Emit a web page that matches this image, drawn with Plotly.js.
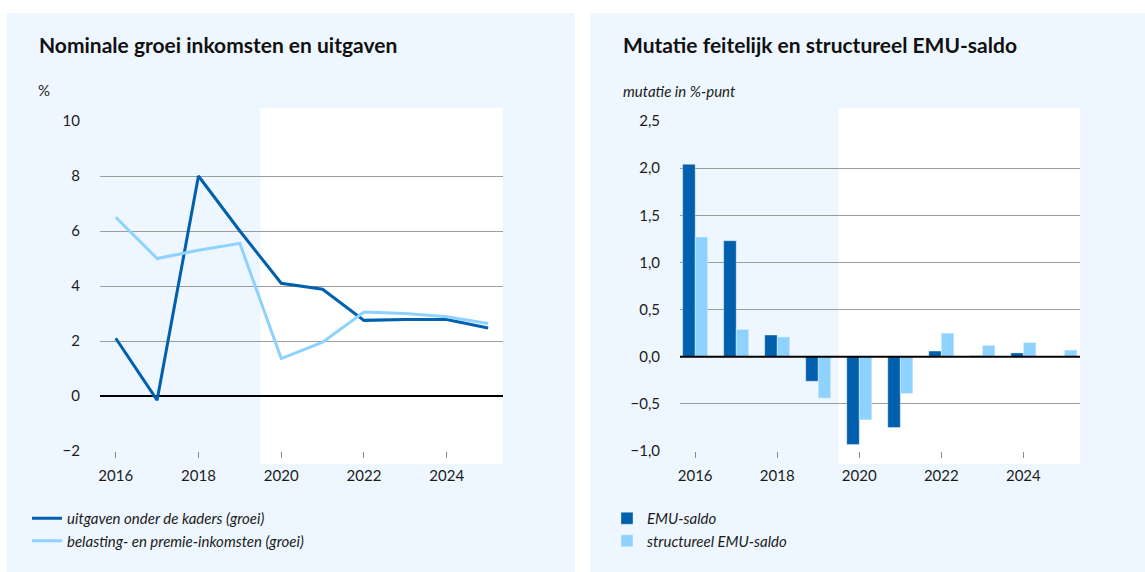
<!DOCTYPE html>
<html>
<head>
<meta charset="utf-8">
<script src="https://cdn.plot.ly/plotly-3.0.1.min.js"></script>
<style>
  html, body { margin: 0; padding: 0; background: #ffffff; }
  #chart { width: 1145px; height: 572px; }
</style>
</head>
<body>
<div id="chart"></div>
<script>
// ---- data ----
const years = [2016, 2017, 2018, 2019, 2020, 2021, 2022, 2023, 2024, 2025];
const uitgavenGroei = [2.1, -0.15, 8.0, 6.0, 4.1, 3.88, 2.75, 2.78, 2.78, 2.47];
const belastingGroei = [6.5, 5.0, 5.3, 5.55, 1.36, 1.96, 3.05, 3.0, 2.88, 2.64];
const emuSaldo = [2.04, 1.23, 0.23, -0.26, -0.93, -0.75, 0.06, 0.01, 0.04, 0.0];
const structureelSaldo = [1.27, 0.29, 0.21, -0.44, -0.67, -0.39, 0.25, 0.12, 0.15, 0.07];
const xTickVals = [2016, 2018, 2020, 2022, 2024];
const leftYTicks = [-2, 0, 2, 4, 6, 8, 10];
const rightYTicks = [-1.0, -0.5, 0.0, 0.5, 1.0, 1.5, 2.0, 2.5];
const forecastStart = 2019.5;

const W = 1145, H = 572;
const px = v => v / W;
const py = v => 1 - v / H;

const FONT = 'Lato, "Noto Sans", sans-serif';
const DARK = '#0060AE';
const LIGHT = '#8ED2FF';
const BG = '#EEF7FF';
const GRID = '#9c9c9c';
const TXT = '#1b1b1b';

const traces = [
  { type: 'scatter', mode: 'lines', x: years, y: uitgavenGroei, name: 'uitgaven onder de kaders (groei)',
    line: { color: DARK, width: 3 }, xaxis: 'x', yaxis: 'y', legend: 'legend', hoverinfo: 'skip' },
  { type: 'scatter', mode: 'lines', x: years, y: belastingGroei, name: 'belasting- en premie-inkomsten (groei)',
    line: { color: LIGHT, width: 3 }, xaxis: 'x', yaxis: 'y', legend: 'legend', hoverinfo: 'skip' },
  { type: 'bar', x: years, y: emuSaldo, name: 'EMU-saldo', marker: { color: DARK, line: { color: 'rgba(255,255,255,0.35)', width: 1 } },
    xaxis: 'x2', yaxis: 'y2', legend: 'legend2', hoverinfo: 'skip' },
  { type: 'bar', x: years, y: structureelSaldo, name: 'structureel EMU-saldo', marker: { color: LIGHT, line: { color: 'rgba(255,255,255,0.35)', width: 1 } },
    xaxis: 'x2', yaxis: 'y2', legend: 'legend2', hoverinfo: 'skip' }
];

const xCommon = {
  tickmode: 'array', tickvals: xTickVals, ticks: 'outside', ticklen: 6, tickcolor: '#8a8a8a', tickwidth: 1,
  showgrid: false, zeroline: false, showline: false,
  tickfont: { family: FONT, size: 15, color: TXT }, ticklabelstandoff: 5, fixedrange: true
};
const yCommon = {
  showgrid: true, gridcolor: GRID, gridwidth: 1, ticks: '', showline: false,
  tickfont: { family: FONT, size: 15, color: TXT }, ticklabelstandoff: 19, fixedrange: true
};

const layout = {
  width: W, height: H,
  margin: { l: 0, r: 0, t: 0, b: 0 },
  paper_bgcolor: '#ffffff', plot_bgcolor: 'rgba(0,0,0,0)',
  separators: ',.',
  barmode: 'group', bargap: 0.39, bargroupgap: 0,
  showlegend: true,
  xaxis: Object.assign({}, xCommon, { domain: [px(100), px(503)], range: [2015.62, 2025.36], anchor: 'y' }),
  yaxis: Object.assign({}, yCommon, { domain: [py(451), py(121)], range: [-2, 10], tickmode: 'array', tickvals: leftYTicks,
    zeroline: true, zerolinecolor: '#000000', zerolinewidth: 2, anchor: 'x' }),
  xaxis2: Object.assign({}, xCommon, { domain: [px(680), px(1080)], range: [2015.63, 2025.38], anchor: 'y2' }),
  yaxis2: Object.assign({}, yCommon, { domain: [py(451), py(121)], range: [-1, 2.5], tickmode: 'array', tickvals: rightYTicks,
    tickformat: '.1f', zeroline: false, anchor: 'x2' }),
  legend: { x: px(27), y: py(502), xanchor: 'left', yanchor: 'top', bgcolor: 'rgba(0,0,0,0)',
    font: { family: FONT, size: 15, color: TXT, style: 'italic' }, tracegroupgap: 0, itemwidth: 30 },
  legend2: { x: px(607), y: py(502), xanchor: 'left', yanchor: 'top', bgcolor: 'rgba(0,0,0,0)',
    font: { family: FONT, size: 15, color: TXT, style: 'italic' }, tracegroupgap: 0, itemwidth: 30, traceorder: 'normal' },
  shapes: [
    { type: 'rect', xref: 'paper', yref: 'paper', x0: px(7), x1: px(575), y0: 0, y1: py(13), fillcolor: BG, line: { width: 0 }, layer: 'below' },
    { type: 'rect', xref: 'paper', yref: 'paper', x0: px(590), x1: 1, y0: 0, y1: py(13), fillcolor: BG, line: { width: 0 }, layer: 'below' },
    { type: 'rect', xref: 'x', yref: 'paper', x0: forecastStart, x1: 2025.36, y0: py(464), y1: py(108), fillcolor: '#ffffff', line: { width: 0 }, layer: 'below' },
    { type: 'rect', xref: 'x2', yref: 'paper', x0: forecastStart, x1: 2025.38, y0: py(464), y1: py(108), fillcolor: '#ffffff', line: { width: 0 }, layer: 'below' },
    { type: 'line', xref: 'x2 domain', yref: 'y2', x0: 0, x1: 1, y0: 0, y1: 0, line: { color: '#000000', width: 2 }, layer: 'above' }
  ],
  annotations: [
    { xref: 'paper', yref: 'paper', x: px(37), y: py(45), xanchor: 'left', yanchor: 'middle', showarrow: false,
      text: '<b>Nominale groei inkomsten en uitgaven</b>', font: { family: FONT, size: 21, color: '#111111' } },
    { xref: 'paper', yref: 'paper', x: px(621), y: py(45), xanchor: 'left', yanchor: 'middle', showarrow: false,
      text: '<b>Mutatie feitelijk en structureel EMU-saldo</b>', font: { family: FONT, size: 21, color: '#111111' } },
    { xref: 'paper', yref: 'paper', x: px(36), y: py(90), xanchor: 'left', yanchor: 'middle', showarrow: false,
      text: '%', font: { family: FONT, size: 15, color: TXT } },
    { xref: 'paper', yref: 'paper', x: px(621), y: py(91), xanchor: 'left', yanchor: 'middle', showarrow: false,
      text: '<i>mutatie in %-punt</i>', font: { family: FONT, size: 15, color: TXT } }
  ]
};

Plotly.newPlot('chart', traces, layout, { displayModeBar: false, staticPlot: true });
</script>
</body>
</html>
